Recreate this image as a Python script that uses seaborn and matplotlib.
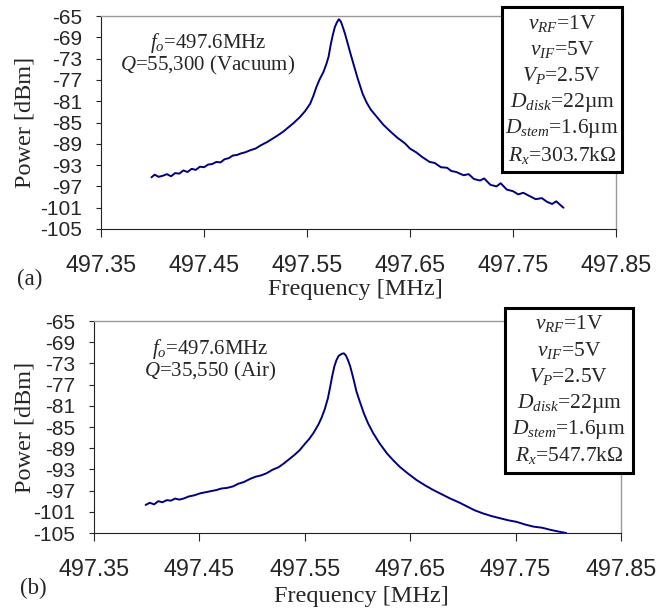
import matplotlib
matplotlib.use("Agg")
import matplotlib.pyplot as plt
import matplotlib.patches as mpatches
import pandas as pd
import seaborn as sns

# panel (a): vacuum
freq_a = [497.399, 497.402, 497.406, 497.410, 497.414, 497.418, 497.422, 497.426,
          497.430, 497.434, 497.438, 497.442, 497.446, 497.450, 497.454, 497.458,
          497.462, 497.466, 497.470, 497.474, 497.478, 497.482, 497.486, 497.490,
          497.495, 497.500, 497.505, 497.511, 497.516, 497.521, 497.527, 497.532,
          497.537, 497.543, 497.548, 497.553, 497.556, 497.559, 497.562, 497.566,
          497.569, 497.571, 497.573, 497.575, 497.577, 497.579, 497.581, 497.583,
          497.585, 497.587, 497.590, 497.593, 497.596, 497.599, 497.601, 497.604,
          497.608, 497.612, 497.618, 497.624, 497.631, 497.638, 497.645, 497.650,
          497.656, 497.662, 497.669, 497.674, 497.680, 497.686, 497.690, 497.695,
          497.702, 497.707, 497.712, 497.718, 497.722, 497.728, 497.734, 497.738,
          497.744, 497.750, 497.755, 497.760, 497.767, 497.772, 497.778, 497.783,
          497.788, 497.792, 497.796, 497.799]
power_a = [-95.3, -94.8, -95.2, -95.0, -94.7, -95.1, -94.5, -94.6,
           -94.0, -94.3, -93.7, -93.9, -93.3, -93.4, -92.9, -92.8,
           -92.4, -92.5, -91.9, -91.7, -91.2, -91.1, -90.8, -90.6,
           -90.2, -89.9, -89.3, -88.7, -88.1, -87.5, -86.7, -85.9,
           -85.1, -84.0, -82.9, -81.5, -80.1, -78.4, -77.0, -75.5,
           -73.9, -72.6, -70.4, -68.6, -67.1, -66.2, -65.6, -66.1,
           -67.2, -68.4, -70.5, -72.6, -74.6, -76.6, -77.8, -79.6,
           -81.3, -82.6, -84.0, -85.4, -86.7, -87.9, -88.9, -89.9,
           -90.6, -91.5, -92.4, -92.6, -93.4, -93.5, -94.1, -94.3,
           -94.9, -94.7, -95.6, -95.9, -95.5, -96.7, -97.0, -96.4,
           -97.6, -97.9, -98.5, -98.2, -98.9, -99.4, -99.2, -99.9,
           -100.3, -99.8, -100.5, -101.0]

# panel (b): air
freq_b = [497.399, 497.403, 497.407, 497.411, 497.415, 497.419, 497.423, 497.427,
          497.431, 497.435, 497.440, 497.445, 497.451, 497.456, 497.461, 497.466,
          497.471, 497.476, 497.482, 497.487, 497.492, 497.498, 497.503, 497.509,
          497.514, 497.519, 497.525, 497.530, 497.535, 497.540, 497.545, 497.550,
          497.554, 497.558, 497.563, 497.566, 497.569, 497.572, 497.574, 497.576,
          497.578, 497.580, 497.582, 497.585, 497.587, 497.589, 497.591, 497.593,
          497.595, 497.597, 497.599, 497.602, 497.606, 497.610, 497.615, 497.621,
          497.628, 497.634, 497.640, 497.648, 497.656, 497.664, 497.672, 497.680,
          497.688, 497.696, 497.704, 497.711, 497.719, 497.727, 497.735, 497.743,
          497.751, 497.759, 497.767, 497.775, 497.783, 497.790, 497.798]
power_b = [-99.7, -99.3, -99.6, -99.0, -99.2, -98.8, -98.9, -98.5,
           -98.7, -98.5, -98.1, -97.9, -97.5, -97.3, -97.1, -96.9,
           -96.6, -96.5, -96.2, -95.7, -95.4, -94.8, -94.4, -94.1,
           -93.7, -93.1, -92.6, -91.9, -91.1, -90.3, -89.4, -88.2,
           -87.3, -86.2, -84.5, -83.2, -81.6, -79.5, -77.5, -75.4,
           -73.6, -72.4, -71.6, -71.2, -71.1, -71.5, -72.4, -73.5,
           -75.0, -76.6, -78.3, -80.1, -82.4, -84.3, -86.2, -88.1,
           -90.0, -91.3, -92.5, -93.8, -95.0, -96.0, -96.9, -97.7,
           -98.5, -99.2, -100.0, -100.7, -101.3, -101.8, -102.2, -102.6,
           -102.9, -103.4, -103.8, -104.0, -104.4, -104.7, -105.0]

x_ticks = [497.35, 497.45, 497.55, 497.65, 497.75, 497.85]
y_ticks = [-65, -69, -73, -77, -81, -85, -89, -93, -97, -101, -105]

notes_a = [r"$f_o$=497.6MHz", r"$Q$=55,300 (Vacuum)"]
notes_b = [r"$f_o$=497.6MHz", r"$Q$=35,550 (Air)"]
box_a = [r"$v_{RF}$=1V", r"$v_{IF}$=5V", r"$V_P$=2.5V",
         r"$D_{disk}$=22µm", r"$D_{stem}$=1.6µm", r"$R_x$=303.7kΩ"]
box_b = [r"$v_{RF}$=1V", r"$v_{IF}$=5V", r"$V_P$=2.5V",
         r"$D_{disk}$=22µm", r"$D_{stem}$=1.6µm", r"$R_x$=547.7kΩ"]

sns.set_style("ticks")
plt.rcParams["font.family"] = ["Liberation Serif", "DejaVu Serif"]
plt.rcParams["mathtext.fontset"] = "custom"
plt.rcParams["mathtext.rm"] = "Liberation Serif"
plt.rcParams["mathtext.it"] = "Liberation Serif:italic"

W, H = 671, 616
fig = plt.figure(figsize=(W / 100, H / 100), dpi=100)
fig.patch.set_facecolor("white")


def px(x, y):
    return x / W, 1 - y / H


def panel(freq, power, rect, notes, note_xy, box, box_rect, box_cx, box_y0,
          tag, tag_xy, xlab_xy):
    l, t, r, b = rect
    ax = fig.add_axes([l / W, 1 - b / H, (r - l) / W, (b - t) / H])
    df = pd.DataFrame({"freq": freq, "power": power})
    sns.lineplot(data=df, x="freq", y="power", ax=ax, color="#000080",
                 linewidth=1.4, estimator=None, sort=False)
    ax.set_xlim(497.35, 497.85)
    ax.set_ylim(-105, -65)
    ax.set_xticks(x_ticks)
    ax.set_xticklabels([f"{v:.2f}" for v in x_ticks])
    ax.set_yticks(y_ticks)
    ax.set_yticklabels([str(v) for v in y_ticks])
    ax.set_xlabel("")
    ax.set_ylabel("")
    # sizes in points (1 px = 0.72 pt at 100 dpi)
    ax.tick_params(axis="x", length=5.8, width=0.8, pad=12.5, labelsize=16.8,
                   direction="out")
    ax.tick_params(axis="y", length=3.8, width=0.8, pad=10, labelsize=15,
                   direction="out")
    for lab in ax.get_xticklabels() + ax.get_yticklabels():
        lab.set_fontfamily("Liberation Sans")
    for s in ["left", "bottom"]:
        ax.spines[s].set_color("#222222")
        ax.spines[s].set_linewidth(0.8)
    for s in ["top", "right"]:
        ax.spines[s].set_color("#999999")
        ax.spines[s].set_linewidth(1.0)

    # annotations
    for i, n in enumerate(notes):
        fig.text(*px(note_xy[0], note_xy[1] + 22 * i), n, fontsize=15,
                 ha="center", va="center")

    # parameter box
    bx0, by0, bx1, by1 = box_rect
    fig.patches.append(mpatches.Rectangle(
        (bx0 / W, 1 - by1 / H), (bx1 - bx0) / W, (by1 - by0) / H,
        transform=fig.transFigure, facecolor="white", edgecolor="black",
        linewidth=2.2, zorder=5))
    for i, line in enumerate(box):
        fig.text(*px(box_cx, box_y0 + 26.4 * i), line, fontsize=15.5,
                 ha="center", va="center", zorder=6)

    fig.text(*px(*tag_xy), tag, fontsize=16.5, ha="center", va="center")
    fig.text(*px(*xlab_xy), "Frequency [MHz]", fontsize=17.5,
             ha="center", va="baseline")
    fig.text(*px(25, (t + b) / 2), "Power [dBm]", fontsize=17.5,
             ha="center", va="center", rotation=90)
    return ax


panel(freq_a, power_a, (101, 16, 616, 229), notes_a, (208, 43), box_a,
      (502, 7, 622, 172), 562, 23, "(a)", (30, 279), (355, 295))
panel(freq_b, power_b, (94, 321, 621, 533), notes_b, (210, 349), box_b,
      (505, 308, 633, 473), 569, 324, "(b)", (33, 588), (361, 602))

fig.savefig("out.png", dpi=100)
